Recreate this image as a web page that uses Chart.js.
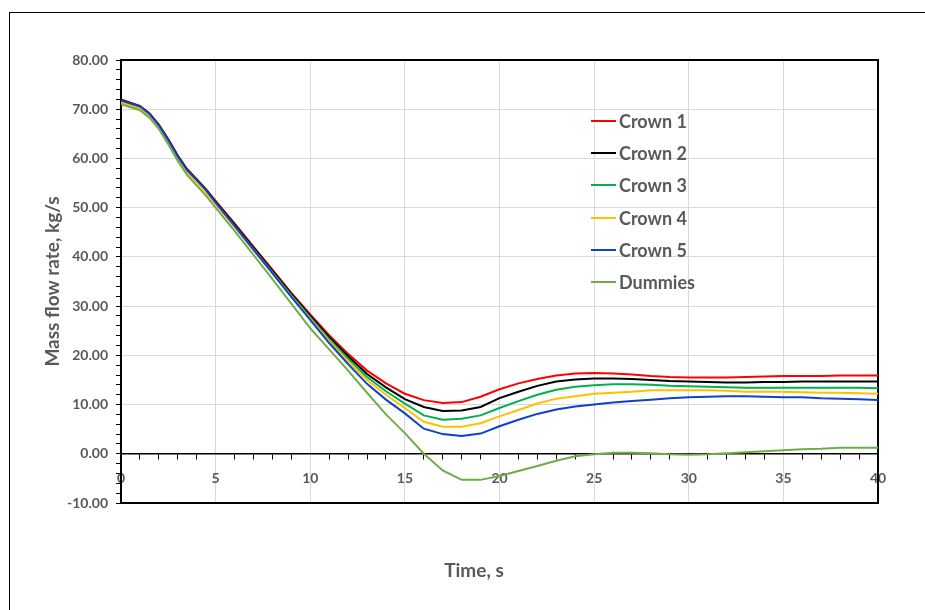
<!DOCTYPE html>
<html>
<head>
<meta charset="utf-8">
<script src="https://cdn.jsdelivr.net/npm/chart.js@4.4.1/dist/chart.umd.min.js"></script>
<style>
body{margin:0;background:#fff;}
#wrap{position:relative;width:925px;height:610px;overflow:hidden;}
#frame{position:absolute;left:9px;top:12px;width:2000px;height:2000px;border:1px solid #000;}
#myChart{position:absolute;left:0;top:0;}
#legend{position:absolute;left:591px;top:0;}
.item{position:absolute;left:0;height:20px;white-space:nowrap;font:bold 18px Lato;color:#595959;line-height:20px;}
.item .ln{position:absolute;left:0;top:9px;width:25px;height:2px;}
.item .tx{position:absolute;left:28px;top:0;}
#xtitle{position:absolute;left:0;width:948px;top:559px;text-align:center;font:bold 19px Lato;color:#595959;line-height:22px;}
</style>
</head>
<body>
<div id="wrap">
	<div id="frame"></div>
	<canvas id="myChart" width="925" height="610"></canvas>
	<div id="legend"></div>
	<div id="xtitle"></div>
</div>
<script>
// datos (tiempo en s, caudal en kg/s)
var time = [0,1,1.5,2,2.5,3,3.5,4,4.5,5,6,7,8,9,10,11,12,13,14,15,16,17,18,19,20,21,22,23,24,25,26,27,28,29,30,31,32,33,34,35,36,37,38,39,40];
var crown1 = [72.0,70.7,69.2,66.9,63.9,60.6,57.8,55.8,53.7,51.4,46.8,42.1,37.4,32.7,28.3,24.1,20.3,16.9,14.3,12.2,10.9,10.3,10.5,11.6,13.1,14.3,15.2,15.9,16.3,16.4,16.3,16.1,15.8,15.6,15.5,15.5,15.5,15.6,15.7,15.8,15.8,15.8,15.9,15.9,15.9];
var crown2 = [71.9,70.6,69.1,66.8,63.8,60.5,57.7,55.7,53.6,51.2,46.6,41.9,37.2,32.5,28.0,23.7,19.8,16.2,13.5,11.1,9.5,8.7,8.8,9.5,11.3,12.6,13.8,14.7,15.1,15.3,15.3,15.2,15.0,14.8,14.7,14.6,14.5,14.5,14.6,14.6,14.7,14.7,14.7,14.7,14.7];
var crown3 = [71.6,70.3,68.8,66.5,63.5,60.2,57.4,55.4,53.3,50.9,46.3,41.6,36.9,32.2,27.7,23.3,19.3,15.6,12.7,10.2,7.8,6.9,7.1,7.8,9.3,10.7,12.0,13.0,13.6,13.9,14.1,14.1,14.0,13.8,13.7,13.6,13.5,13.4,13.4,13.4,13.4,13.4,13.4,13.4,13.3];
var crown4 = [71.4,70.1,68.6,66.3,63.3,60.0,57.2,55.2,53.1,50.7,46.1,41.4,36.7,32.0,27.4,22.9,18.8,15.0,12.0,9.3,6.5,5.5,5.5,6.2,7.6,8.9,10.2,11.2,11.7,12.2,12.4,12.6,12.9,12.9,12.9,12.9,12.8,12.6,12.6,12.6,12.5,12.4,12.4,12.3,12.2];
var crown5 = [71.8,70.6,69.1,66.7,63.7,60.4,57.6,55.6,53.5,51.0,46.3,41.5,36.7,31.9,27.2,22.5,18.2,14.2,11.0,8.2,5.1,4.0,3.6,4.1,5.6,6.9,8.1,9.0,9.6,10.0,10.4,10.7,11.0,11.3,11.5,11.6,11.7,11.7,11.6,11.5,11.5,11.3,11.2,11.1,10.9];
var dummies = [71.0,69.8,68.3,66.0,62.9,59.5,56.6,54.5,52.4,50.0,45.3,40.4,35.5,30.5,25.5,21.2,16.9,12.4,8.0,4.2,0.0,-3.4,-5.3,-5.3,-4.5,-3.5,-2.5,-1.4,-0.5,-0.1,0.2,0.2,0.1,-0.1,-0.2,-0.1,0.1,0.3,0.5,0.7,0.9,1.0,1.2,1.2,1.2];

var seriesNames = ['Crown 1','Crown 2','Crown 3','Crown 4','Crown 5','Dummies'];
var seriesData = [crown1,crown2,crown3,crown4,crown5,dummies];
var seriesColors = ['#ff0000','#000000','#00b050','#ffc000','#1040d0','#70ad47'];

// ejes
var xMin = 0, xMax = 40, xMajor = 5, xMinor = 1;
var yMin = -10, yMax = 80, yMajor = 10, yMinor = 2;
var xTitulo = 'Time, s';
var yTitulo = 'Mass flow rate, kg/s';

var gris = '#595959';
var fuenteTicks = {family:'Lato', size:14, weight:'bold'};
var fuenteTitulo = {family:'Lato', size:19, weight:'bold'};

var datasets = seriesData.map(function(serie, i){
	return {
		label: seriesNames[i],
		data: time.map(function(t, k){ return {x:t, y:serie[k]}; }),
		borderColor: seriesColors[i],
		backgroundColor: seriesColors[i],
		borderWidth: 2,
		pointRadius: 0,
		tension: 0,
		fill: false,
		order: seriesData.length - i
	};
});

var myChart = document.getElementById('myChart');
var grafica = new Chart(myChart, {
	type: 'line',
	data: { datasets: datasets },
	options: {
		responsive: false,
		animation: false,
		devicePixelRatio: 1,
		layout: { padding: {top:60, right:47, bottom:0, left:0} },
		plugins: { legend:{display:false}, tooltip:{enabled:false} },
		scales: {
			// eje horizontal que cruza en y = 0
			x: {
				type:'linear', position:{y:0}, min:xMin, max:xMax,
				ticks:{ stepSize:xMinor, autoSkip:false, maxRotation:0, padding:11, color:gris, font:fuenteTicks,
					callback:function(v){ return v % xMajor === 0 ? String(v) : ''; } },
				grid:{ drawOnChartArea:false, drawTicks:true, tickLength:5, tickColor:'#000' },
				border:{ color:'#000', width:1.5 }
			},
			xb: {
				type:'linear', position:'bottom', min:xMin, max:xMax,
				ticks:{ display:false, stepSize:xMajor },
				grid:{ color:'#d9d9d9', lineWidth:1, drawTicks:false },
				border:{ color:'#000', width:2 },
				afterFit:function(s){ s.height = 107; }
			},
			xt: {
				type:'linear', position:'top', min:xMin, max:xMax,
				ticks:{ display:false },
				grid:{ drawOnChartArea:false, drawTicks:false },
				border:{ color:'#000', width:2 },
				afterFit:function(s){ s.height = 0; }
			},
			y: {
				type:'linear', position:'left', min:yMin, max:yMax,
				ticks:{ stepSize:yMinor, autoSkip:false, padding:8, color:gris, font:fuenteTicks,
					callback:function(v){ return v % yMajor === 0 ? v.toFixed(2) : ''; } },
				grid:{
					color:function(c){ return (c.tick && c.tick.value % yMajor === 0) ? '#d9d9d9' : 'rgba(0,0,0,0)'; },
					lineWidth:1, tickColor:'#000', tickLength:5
				},
				border:{ color:'#000', width:2 },
				title:{ display:true, text:yTitulo, color:gris, font:fuenteTitulo, padding:{top:41, bottom:0} },
				afterFit:function(s){ s.width = 121; }
			},
			yr: {
				type:'linear', position:'right', min:yMin, max:yMax,
				ticks:{ display:false },
				grid:{ drawOnChartArea:false, drawTicks:false },
				border:{ color:'#000', width:2 },
				afterFit:function(s){ s.width = 0; }
			}
		}
	}
});

// titulo del eje x (centrado en el marco, como el original)
document.getElementById('xtitle').textContent = xTitulo;

// leyenda en html dentro del area de la grafica
var leyenda = document.getElementById('legend');
grafica.data.datasets.forEach(function(ds, i){
	var item = document.createElement('div');
	item.className = 'item';
	item.style.top = (111 + i * 32.2) + 'px';
	item.innerHTML = '<span class="ln" style="background:' + ds.borderColor + '"></span><span class="tx">' + ds.label + '</span>';
	leyenda.appendChild(item);
});
</script>
</body>
</html>
